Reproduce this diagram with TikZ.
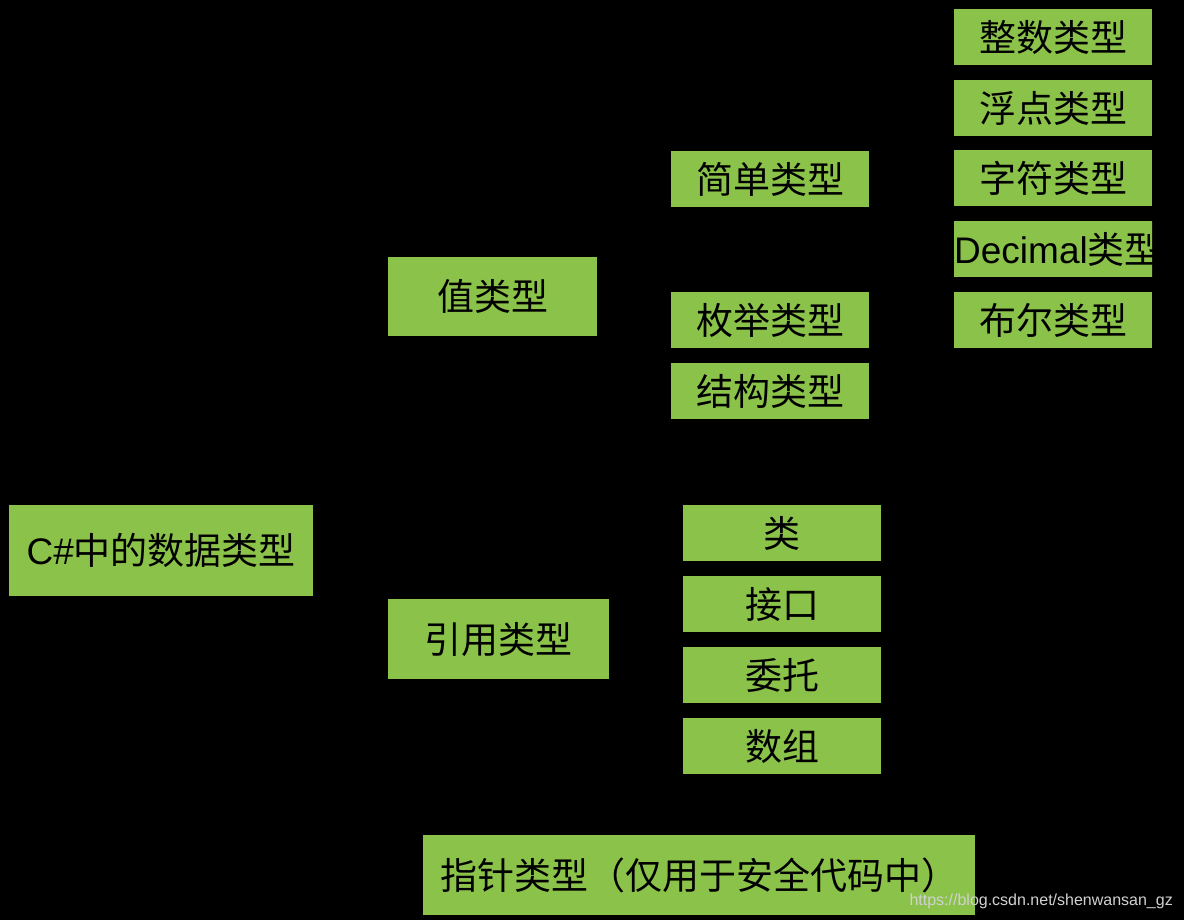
\documentclass[tikz,border=0pt]{standalone}
\usepackage{fontspec}
\setmainfont{Liberation Sans}
\newfontfamily\cjk{Noto Sans CJK SC}
\definecolor{boxgreen}{RGB}{139,195,74}
\tikzset{
  typebox/.style={fill=boxgreen, anchor=north west, inner sep=0pt, text=black, font=\fontsize{37}{40}\selectfont\cjk},
  small/.style={typebox, minimum width=198pt, minimum height=56pt}
}
\begin{document}
\begin{tikzpicture}[x=1pt,y=-1pt]
\fill[black] (0,0) rectangle (1184,920);
\useasboundingbox (0,0) rectangle (1184,920);

\node[typebox, minimum width=304pt, minimum height=91pt] (data) at (9,505) {{\rmfamily C\#}中的数据类型};
\node[typebox, minimum width=209pt, minimum height=79pt] (value) at (388,257) {值类型};
\node[typebox, minimum width=221pt, minimum height=80pt] (ref) at (388,599) {引用类型};
\node[typebox, minimum width=552pt, minimum height=80pt] (ptr) at (423,835) {指针类型（仅用于安全代码中）};

\node[small] (simple) at (671,151) {简单类型};
\node[small] (enum) at (671,292) {枚举类型};
\node[small] (struct) at (671,363) {结构类型};

\node[small] (int) at (954,9) {整数类型};
\node[small] (float) at (954,80) {浮点类型};
\node[small] (char) at (954,150) {字符类型};
\begin{scope}
\clip (954,221) rectangle (1152,277);
\node[small] (decimal) at (954,221) {{\rmfamily Decimal}类型};
\end{scope}
\node[small] (bool) at (954,292) {布尔类型};

\node[small] (class) at (683,505) {类};
\node[small] (iface) at (683,576) {接口};
\node[small] (deleg) at (683,647) {委托};
\node[small] (array) at (683,718) {数组};

\node[anchor=south east, inner sep=0pt, text=black!18, font=\fontsize{16}{17}\selectfont] (mark) at (1173,909) {https://blog.csdn.net/shenwansan\_gz};
\end{tikzpicture}
\end{document}
